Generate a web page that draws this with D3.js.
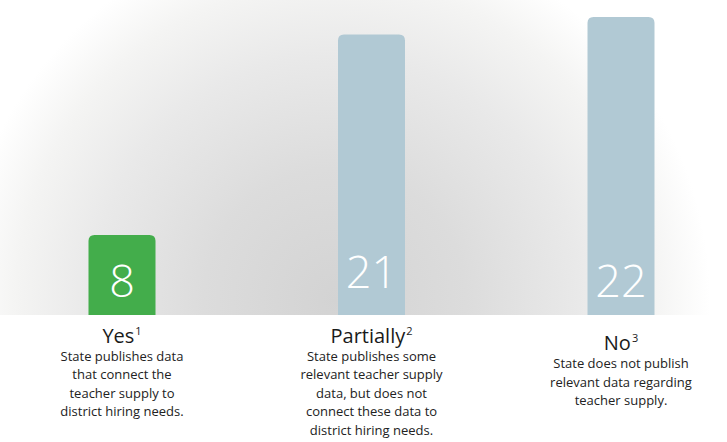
<!DOCTYPE html>
<html>
<head>
<meta charset="utf-8">
<script src="https://cdn.jsdelivr.net/npm/d3@7"></script>
<style>
  body { margin: 0; background: #fff; }
  svg { display: block; font-family: "Open Sans", "Noto Sans", sans-serif; }
</style>
</head>
<body>
<div id="chart"></div>
<script>
// data
const categories = ["Yes", "Partially", "No"];
const counts = [8, 21, 22];
const footnotes = ["1", "2", "3"];
const descriptions = [
  ["State publishes data", "that connect the", "teacher supply to", "district hiring needs."],
  ["State publishes some", "relevant teacher supply", "data, but does not", "connect these data to", "district hiring needs."],
  ["State does not publish", "relevant data regarding", "teacher supply."]
];
const barColors = ["#43ad4b", "#b1c9d4", "#b1c9d4"];

const width = 727;
const height = 442;
const baseline = 315;
const barWidth = 67;

const svg = d3.select("#chart")
  .append("svg")
  .attr("width", width)
  .attr("height", height);

// soft grey glow behind the bars
const defs = svg.append("defs");
const grad = defs.append("radialGradient")
  .attr("id", "glow")
  .attr("gradientUnits", "userSpaceOnUse")
  .attr("cx", 335).attr("cy", 300).attr("r", 375);
[[0, "#d3d3d3"], [0.35, "#dcdcdc"], [0.65, "#e9e9e9"], [0.85, "#f4f4f3"], [1, "#ffffff"]]
  .forEach(s => grad.append("stop").attr("offset", s[0]).attr("stop-color", s[1]));

svg.append("rect")
  .attr("x", 0).attr("y", 0)
  .attr("width", width).attr("height", baseline)
  .attr("fill", "url(#glow)");

// scales (the original bars are not drawn to a linear scale)
const x = d3.scalePoint()
  .domain(categories)
  .range([122, 621]);

const y = d3.scalePow()
  .exponent(1.3)
  .domain([0, d3.max(counts)])
  .range([baseline, 17]);

const data = categories.map((c, i) => ({
  key: c, value: counts[i], note: footnotes[i], lines: descriptions[i], color: barColors[i]
}));

// bars: rounded top corners only
const r = 6;
svg.selectAll("path.bar")
  .data(data)
  .enter()
  .append("path")
  .attr("class", "bar")
  .attr("fill", d => d.color)
  .attr("d", d => {
    const x0 = x(d.key) - barWidth / 2, x1 = x0 + barWidth;
    const yt = y(d.value), yb = y(0);
    return `M${x0},${yb}V${yt + r}Q${x0},${yt} ${x0 + r},${yt}H${x1 - r}Q${x1},${yt} ${x1},${yt + r}V${yb}Z`;
  });

// value labels inside the bars
svg.selectAll("text.value")
  .data(data)
  .enter()
  .append("text")
  .attr("class", "value")
  .attr("x", d => x(d.key))
  .attr("y", d => y(0) - (d.key === "Partially" ? 27 : 18))
  .attr("text-anchor", "middle")
  .attr("fill", "#fff")
  .attr("font-size", 45)
  .attr("font-weight", 300)
  .text(d => d.value);

// category titles with footnote marks
const titleY = d => d.key === "No" ? 350 : 342.5;

const titles = svg.selectAll("text.title")
  .data(data)
  .enter()
  .append("text")
  .attr("class", "title")
  .attr("x", d => x(d.key))
  .attr("y", titleY)
  .attr("text-anchor", "middle")
  .attr("fill", "#1a1a1a")
  .attr("font-size", 20);
titles.append("tspan").text(d => d.key);
titles.append("tspan")
  .attr("font-size", 11)
  .attr("dx", 1)
  .attr("dy", -8)
  .text(d => d.note);

// descriptions
data.forEach(d => {
  svg.append("text")
    .attr("x", x(d.key))
    .attr("text-anchor", "middle")
    .attr("fill", "#222")
    .attr("font-size", 13)
    .selectAll("tspan")
    .data(d.lines)
    .enter()
    .append("tspan")
    .attr("x", x(d.key))
    .attr("y", (l, i) => titleY(d) + 18 + i * 18.5)
    .text(l => l);
});
</script>
</body>
</html>
